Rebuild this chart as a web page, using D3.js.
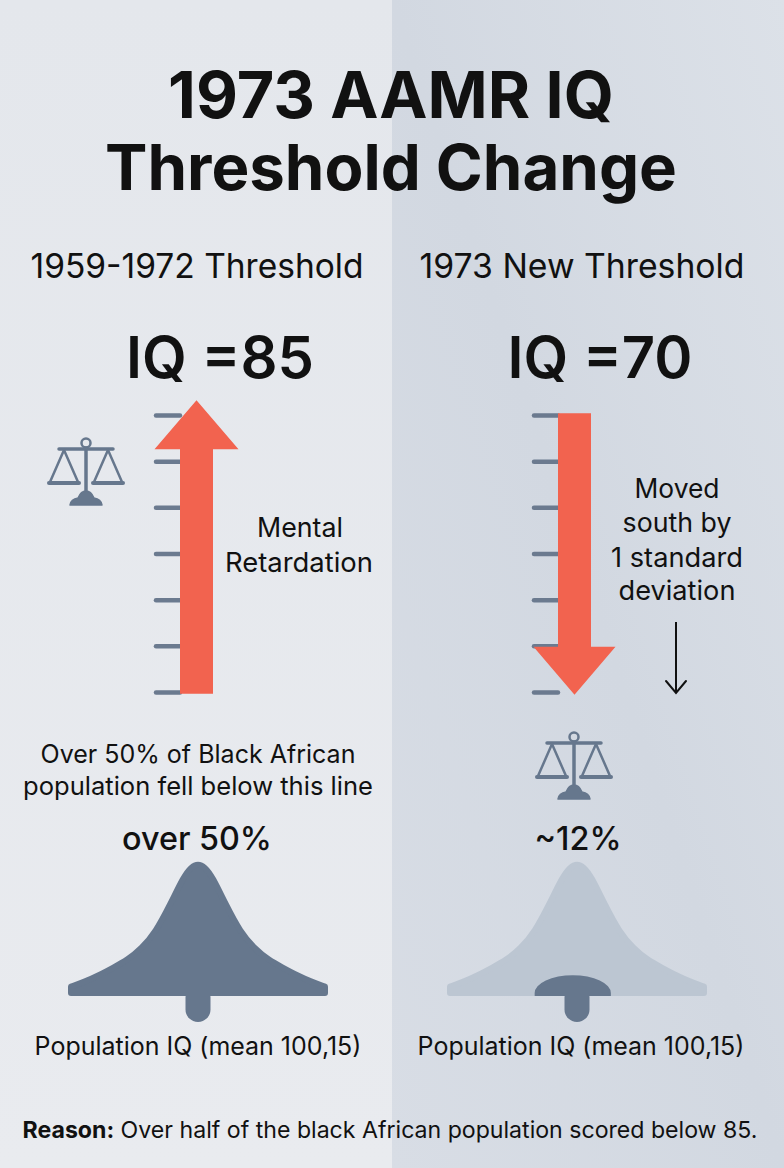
<!DOCTYPE html>
<html>
<head>
<meta charset="utf-8">
<script src="https://cdn.jsdelivr.net/npm/d3@7"></script>
<style>
  body { margin: 0; background: #e6e9ee; }
  svg { display: block; }
  text { font-family: Inter, "Liberation Sans", sans-serif; fill: #111; }
</style>
</head>
<body>
<div class="poster"></div>
<script>

/** values */
const panelNames = ["1959-1972 Threshold", "1973 New Threshold"];
const thresholdLabels = ["IQ =85", "IQ =70"];
const tickIQ = [70, 72.5, 75, 77.5, 80, 82.5, 85];
const arrowFromIQ = [69.9, 85.1];
const arrowToIQ = [85.8, 69.85];
const shareLabels = ["over 50%", "~12%"];
const leftNote = ["Mental", "Retardation"];
const rightNote = ["Moved", "south by", "1 standard", "deviation"];
const belowNote = ["Over 50% of Black African", "population fell below this line"];
const curveLabel = "Population IQ (mean 100,15)";
const bellIQ = [55, 60, 65, 70, 75, 80, 85, 90, 95, 97.5, 100, 102.5, 105, 110, 115, 120, 125, 130, 135, 140, 145];
const bellDensity = [0.05, 0.09, 0.14, 0.20, 0.26, 0.35, 0.48, 0.69, 0.92, 0.99, 1.02, 0.99, 0.92, 0.69, 0.48, 0.35, 0.26, 0.20, 0.14, 0.09, 0.05];
const capIQ = [85, 112];
const capDensity = 0.14;

const W = 784, H = 1168;
const coral = '#f2634f', slate = '#66778d', tickCol = '#6b7a8f';

let svg = d3.select('.poster').append('svg')
    .attr('width', W)
    .attr('height', H);

/** background, two panels */
let defs = svg.append('defs');
let gl = defs.append('linearGradient').attr('id', 'bgL')
    .attr('x1', 0).attr('y1', 0).attr('x2', 0).attr('y2', 1);
gl.append('stop').attr('offset', '0%').attr('stop-color', '#e4e7ec');
gl.append('stop').attr('offset', '100%').attr('stop-color', '#e9ebef');
let gr = defs.append('linearGradient').attr('id', 'bgR')
    .attr('x1', 1).attr('y1', 0).attr('x2', 0).attr('y2', 1);
gr.append('stop').attr('offset', '0%').attr('stop-color', '#dce1e8');
gr.append('stop').attr('offset', '50%').attr('stop-color', '#d2d8e1');
gr.append('stop').attr('offset', '100%').attr('stop-color', '#d8dde5');

svg.append('rect').attr('width', 392).attr('height', H).attr('fill', 'url(#bgL)');
svg.append('rect').attr('x', 392).attr('width', W - 392).attr('height', H).attr('fill', 'url(#bgR)');

/** text helper: size text so it spans the width seen in the picture */
function addText(x, y, str, size, weight, width) {
    let t = svg.append('text')
        .attr('x', x)
        .attr('y', y)
        .attr('text-anchor', 'middle')
        .style('font-size', size + 'px')
        .style('font-weight', weight)
        .text(str);
    if (width) {
        let len = t.node().getComputedTextLength();
        t.style('font-size', (size * width / len) + 'px');
    }
    return t;
}

/** title */
addText(391, 118, '1973 AAMR IQ', 62, 700, 446);
addText(391, 190, 'Threshold Change', 62, 700, 572);

/** per panel layout */
const panels = [
    { name: 197, iq: 220, shaft: [180, 213], head: 42, headLen: 49, bell: 198, share: 197, label: 198 },
    { name: 582, iq: 600, shaft: [558, 591], head: 41, headLen: 48, bell: 577, share: 578, label: 581 }
];
const nameWidths = [333, 325];
const iqWidths = [188, 185];
let shareSize = 30;

let y = d3.scaleLinear().domain([70, 85]).range([692, 415]);

panels.forEach(function (p, i) {

    addText(p.name, 278, panelNames[i], 32, 400, nameWidths[i]);
    addText(p.iq, 378, thresholdLabels[i], 58, 600, iqWidths[i]);

    /** tick marks */
    let axis = d3.axisLeft(y).tickValues(tickIQ).tickSize(24).tickFormat('');
    let ag = svg.append('g')
        .attr('transform', 'translate(' + p.shaft[0] + ',0)')
        .call(axis);
    ag.select('.domain').remove();
    ag.selectAll('.tick line')
        .attr('stroke', tickCol)
        .attr('stroke-width', 4.5)
        .attr('stroke-linecap', 'round');

    /** arrow */
    let x0 = p.shaft[0], x1 = p.shaft[1], cx = (x0 + x1) / 2;
    let from = y(arrowFromIQ[i]), tip = y(arrowToIQ[i]);
    let dir = tip < from ? 1 : -1;
    let base = tip + dir * p.headLen;
    let pth = d3.path();
    pth.moveTo(x0, from);
    pth.lineTo(x0, base);
    pth.lineTo(cx - p.head, base);
    pth.lineTo(cx, tip);
    pth.lineTo(cx + p.head, base);
    pth.lineTo(x1, base);
    pth.lineTo(x1, from);
    pth.closePath();
    svg.append('path').attr('d', pth.toString()).attr('fill', coral);

    /** bell curve */
    let bx = d3.scaleLinear().domain([55, 145]).range([p.bell - 127, p.bell + 127]);
    let by = d3.scaleLinear().domain([0, 1]).range([993, 866]);
    let area = d3.area()
        .x((d, k) => bx(bellIQ[k]))
        .y0(by(0))
        .y1(d => by(d))
        .curve(d3.curveBasis);
    let bellCol = i === 0 ? slate : '#bcc6d2';

    svg.append('rect')
        .attr('x', p.bell - 12.5)
        .attr('y', by(0) - 8)
        .attr('width', 25)
        .attr('height', 1022 - by(0) + 8)
        .attr('rx', 12.5)
        .attr('fill', slate);

    svg.append('path')
        .attr('d', area(bellDensity))
        .attr('fill', bellCol)
        .attr('stroke', bellCol)
        .attr('stroke-width', 6)
        .attr('stroke-linejoin', 'round');

    if (i === 1) {
        let c0 = bx(capIQ[0]), c1 = bx(capIQ[1]);
        let ry = by(0) - by(capDensity);
        svg.append('path')
            .attr('d', 'M' + c0 + ',' + (by(0) + 3) + ' L' + c0 + ',' + by(0)
                + ' A' + ((c1 - c0) / 2) + ',' + ry + ' 0 0 1 ' + c1 + ',' + by(0)
                + ' L' + c1 + ',' + (by(0) + 3) + 'Z')
            .attr('fill', slate);
    }

    /** share label, both panels at the same size */
    let st = addText(p.share, 850, shareLabels[i], shareSize, 500, i === 0 ? 150 : null);
    if (i === 0) shareSize = parseFloat(st.style('font-size'));

    addText(p.label, 1055, curveLabel, 25, 400, 327);
});

/** scale icons */
function scaleIcon(cx, cy) {
    let g = svg.append('g')
        .attr('transform', 'translate(' + cx + ',' + cy + ')')
        .attr('stroke', slate)
        .attr('fill', 'none')
        .attr('stroke-linecap', 'round')
        .attr('stroke-linejoin', 'round');
    g.append('circle').attr('r', 4.5).attr('stroke-width', 2.5);
    g.append('line').attr('x1', 0).attr('y1', 5).attr('x2', 0).attr('y2', 56).attr('stroke-width', 3.5);
    g.append('line').attr('x1', -27).attr('y1', 6).attr('x2', 27).attr('y2', 6).attr('stroke-width', 3.5);
    [-1, 1].forEach(function (s) {
        g.append('path')
            .attr('d', 'M' + (s * 22) + ',7 L' + (s * 36) + ',39 M' + (s * 22) + ',7 L' + (s * 8) + ',39')
            .attr('stroke-width', 2.5);
        g.append('line')
            .attr('x1', s * 37).attr('y1', 40).attr('x2', s * 7).attr('y2', 40)
            .attr('stroke-width', 4);
    });
    g.append('path')
        .attr('d', 'M-16,62 L16,62 Q15,56 8,55 Q5,48 0,48 Q-5,48 -8,55 Q-15,56 -16,62 Z')
        .attr('fill', slate)
        .attr('stroke-width', 1.5);
}
scaleIcon(86, 443);
scaleIcon(574, 737);

/** side notes */
addText(300, 537, leftNote[0], 25, 400, 86);
addText(299, 572, leftNote[1], 25, 400, 148);

const rightY = [498, 532, 567, 600];
const rightW = [85, 109, 132, 117];
rightNote.forEach(function (s, k) {
    addText(677, rightY[k], s, 25, 400, rightW[k]);
});

/** thin black arrow */
svg.append('line')
    .attr('x1', 676).attr('y1', 622).attr('x2', 676).attr('y2', 692)
    .attr('stroke', '#111').attr('stroke-width', 2);
svg.append('path')
    .attr('d', 'M666,681 L676,693 L686,681')
    .attr('fill', 'none').attr('stroke', '#111').attr('stroke-width', 2)
    .attr('stroke-linecap', 'round');

/** note under left arrow */
addText(198, 763, belowNote[0], 24, 400, 315);
addText(198, 795, belowNote[1], 24, 400, 350);

/** reason line */
let reason = svg.append('text')
    .attr('x', 390)
    .attr('y', 1138)
    .attr('text-anchor', 'middle')
    .style('font-size', '22px');
reason.append('tspan').style('font-weight', 700).text('Reason:');
reason.append('tspan').style('font-weight', 400).text(' Over half of the black African population scored below 85.');
let rl = reason.node().getComputedTextLength();
reason.style('font-size', (22 * 735 / rl) + 'px');

</script>
</body>
</html>
